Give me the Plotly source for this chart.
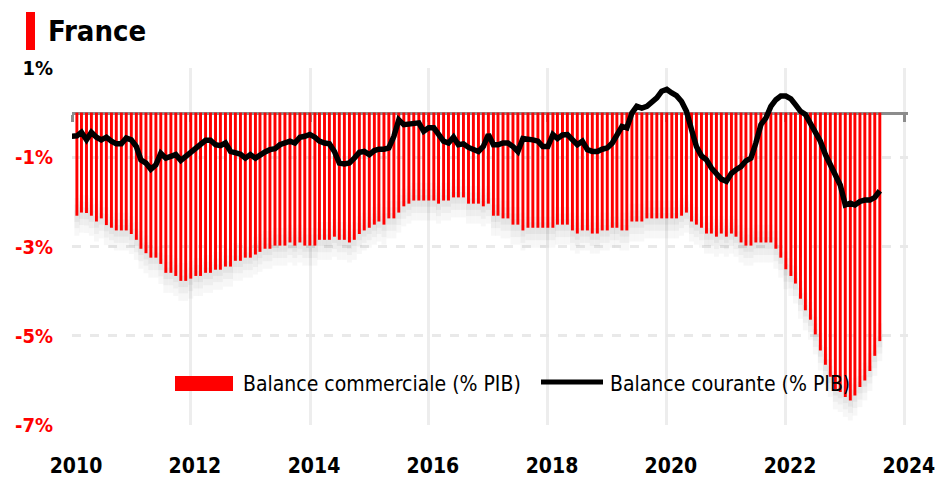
import pandas as pd
import plotly.graph_objects as go

# ---------------- data ----------------
bar_months = pd.date_range("2010-01-01", periods=163, freq="MS") + pd.offsets.MonthEnd(0)
line_months = pd.date_range("2009-12-01", periods=164, freq="MS") + pd.offsets.MonthEnd(0)

balance_commerciale = [
    -2.31, -2.24, -2.25, -2.31, -2.44, -2.37, -2.52, -2.58, -2.64, -2.64, -2.64, -2.72,
    -2.85, -3.05, -3.15, -3.25, -3.25, -3.39, -3.59, -3.59, -3.66, -3.77, -3.77, -3.72,
    -3.66, -3.66, -3.59, -3.59, -3.52, -3.52, -3.45, -3.45, -3.32, -3.32,
    -3.25, -3.25, -3.18, -3.12, -3.05, -3.05, -2.98, -2.98, -2.98, -2.91, -2.98, -2.91,
    -2.98, -2.98, -2.98, -2.85, -2.85, -2.85, -2.78, -2.85, -2.85, -2.91, -2.85, -2.72,
    -2.64, -2.58, -2.51, -2.44, -2.51, -2.37, -2.37, -2.24, -2.10,
    -2.04, -1.97, -1.97, -1.97, -1.97, -1.97, -2.04, -1.97, -1.97, -1.90, -1.90, -1.90,
    -2.04, -2.04, -2.04, -2.10, -2.04, -2.31, -2.31, -2.37, -2.37, -2.51, -2.51, -2.64,
    -2.58, -2.58, -2.58, -2.58, -2.58, -2.58, -2.51, -2.51,
    -2.51, -2.64, -2.71, -2.64, -2.64, -2.71, -2.71, -2.64, -2.64, -2.58, -2.58, -2.64,
    -2.64, -2.44, -2.44, -2.44, -2.37, -2.37, -2.37, -2.37, -2.37, -2.37, -2.37, -2.31,
    -2.24, -2.44, -2.51, -2.58, -2.71, -2.71, -2.78, -2.71, -2.78,
    -2.71, -2.78, -2.91, -2.98, -2.98, -2.91, -2.91, -2.91, -2.91, -3.05, -3.25, -3.51,
    -3.66, -3.83, -4.17, -4.43, -4.64, -4.97, -5.33, -5.65, -5.92, -6.20, -6.26, -6.37,
    -6.45, -6.34, -6.15, -6.00, -5.79, -5.45, -5.12,
]

balance_courante = [
    -0.53,
    -0.52, -0.44, -0.61, -0.44, -0.55, -0.61, -0.55, -0.64, -0.70, -0.70, -0.57, -0.61,
    -0.76, -1.06, -1.13, -1.27, -1.17, -0.91, -1.02, -0.98, -0.94, -1.07, -0.98, -0.87,
    -0.79, -0.70, -0.62, -0.62, -0.72, -0.74, -0.68, -0.87, -0.91, -0.93,
    -1.02, -0.94, -1.02, -0.94, -0.88, -0.83, -0.81, -0.72, -0.68, -0.64, -0.68, -0.55,
    -0.53, -0.49, -0.55, -0.64, -0.68, -0.70, -0.87, -1.13, -1.15, -1.13, -1.02, -0.89,
    -0.87, -0.94, -0.85, -0.82, -0.82, -0.79, -0.53, -0.16, -0.27,
    -0.25, -0.22, -0.23, -0.42, -0.34, -0.34, -0.49, -0.64, -0.68, -0.55, -0.72, -0.70,
    -0.78, -0.83, -0.87, -0.76, -0.49, -0.72, -0.72, -0.68, -0.68, -0.76, -0.87, -0.58,
    -0.58, -0.61, -0.64, -0.76, -0.76, -0.49, -0.58, -0.50,
    -0.49, -0.61, -0.72, -0.64, -0.83, -0.87, -0.87, -0.82, -0.79, -0.68, -0.53, -0.31,
    -0.34, -0.01, 0.14, 0.10, 0.14, 0.22, 0.33, 0.48, 0.52, 0.44, 0.38, 0.25,
    0.03, -0.38, -0.76, -0.97, -1.06, -1.24, -1.38, -1.49, -1.54,
    -1.36, -1.28, -1.21, -1.08, -1.02, -0.68, -0.27, -0.12, 0.14, 0.29, 0.37, 0.37,
    0.31, 0.18, 0.03, -0.04, -0.23, -0.42, -0.64, -0.94, -1.17, -1.36, -1.62, -2.07,
    -2.03, -2.07, -1.99, -1.96, -1.96, -1.90, -1.75,
]

y_tickvals = [1, -1, -3, -5, -7]
y_ticklabels = ["1%", "-1%", "-3%", "-5%", "-7%"]
x_tickvals = ["2010-01-01", "2012-01-01", "2014-01-01", "2016-01-01",
              "2018-01-01", "2020-01-01", "2022-01-01", "2024-01-01"]
x_ticklabels = ["2010", "2012", "2014", "2016", "2018", "2020", "2022", "2024"]

title_text = "France"
legend_labels = ["Balance commerciale (% PIB)", "Balance courante (% PIB)"]

# ---------------- style ----------------
W, H = 936, 480
ML, MR, MT, MB = 72, 28, 68, 55
PW, PH = W - ML - MR, H - MT - MB
NARROW = "Liberation Sans Narrow, Arial Narrow, DejaVu Sans Condensed, sans-serif"
RED = "#ff0000"
X_RANGE = ["2010-01-01", "2024-01-20"]


def px(xp):
    return (xp - ML) / PW


def py(yp):
    return (H - MB - yp) / PH


fig = go.Figure()

# soft shadow under bar tips
for top_off, bot_off, alpha in [(0.40, -0.45, 0.032), (0.25, -0.28, 0.036), (0.12, -0.14, 0.04)]:
    fig.add_trace(go.Bar(
        x=bar_months, base=[v + top_off for v in balance_commerciale],
        y=[bot_off - top_off] * len(balance_commerciale),
        width=31 * 86400000, marker=dict(color=f"rgba(0,0,0,{alpha})", line=dict(width=0)),
        showlegend=False, hoverinfo="skip",
    ))

fig.add_trace(go.Bar(
    x=bar_months, y=balance_commerciale, name=legend_labels[0],
    marker=dict(color=RED, line=dict(width=0)), width=18 * 86400000,
    showlegend=False,
))

fig.add_trace(go.Scatter(
    x=line_months, y=balance_courante, name=legend_labels[1], xaxis="x2",
    mode="lines", line=dict(color="black", width=5.5), showlegend=False,
))

ytext = [f'<span style="color:{"black" if v > 0 else RED}">{t}</span>'
         for v, t in zip(y_tickvals, y_ticklabels)]

fig.update_layout(
    width=W, height=H, margin=dict(l=ML, r=MR, t=MT, b=MB, autoexpand=False),
    paper_bgcolor="white", plot_bgcolor="white",
    barmode="overlay",
    font=dict(family=NARROW, color="black"),
    xaxis=dict(
        type="date", range=X_RANGE, automargin=False,
        tickvals=x_tickvals, ticktext=x_ticklabels,
        showgrid=True, gridcolor="#ededed", gridwidth=3,
        zeroline=False, showline=False,
        ticks="outside", ticklen=22, tickcolor="rgba(0,0,0,0)",
        tickfont=dict(family=NARROW, size=21, color="black", weight="bold"),
        ticklabelshift=4,
    ),
    xaxis2=dict(
        type="date", range=X_RANGE, overlaying="x",
        anchor="free", position=0.875, automargin=False,
        tickvals=x_tickvals, showticklabels=False, showgrid=False,
        showline=True, linecolor="#8c8c8c", linewidth=3,
        ticks="outside", ticklen=7, tickwidth=2.5, tickcolor="#8c8c8c",
        layer="below traces",
    ),
    yaxis=dict(
        range=[-7, 1], tickvals=y_tickvals, ticktext=ytext, automargin=False,
        showgrid=True, gridcolor="#e9e9e9", gridwidth=3, griddash="dash",
        zeroline=False, showline=False,
        ticks="outside", ticklen=14, tickcolor="rgba(0,0,0,0)",
        tickfont=dict(family=NARROW, size=20, weight="bold"),
    ),
    shapes=[
        dict(type="rect", xref="paper", yref="paper",
             x0=px(26), x1=px(35), y0=py(50), y1=py(12),
             fillcolor=RED, line=dict(width=0)),
        dict(type="rect", xref="paper", yref="paper",
             x0=px(175), x1=px(233), y0=py(391), y1=py(376),
             fillcolor=RED, line=dict(width=0)),
        dict(type="line", xref="paper", yref="paper",
             x0=px(541), x1=px(603), y0=py(382), y1=py(382),
             line=dict(color="black", width=5)),
    ],
    annotations=[
        dict(text=f"<b>{title_text}</b>", xref="paper", yref="paper",
             x=px(46), y=py(31), xanchor="left", yanchor="middle", showarrow=False,
             font=dict(family=NARROW, size=29, color="black")),
        dict(text=legend_labels[0], xref="paper", yref="paper",
             x=px(241), y=py(384), xanchor="left", yanchor="middle", showarrow=False,
             font=dict(family=NARROW, size=21, color="black")),
        dict(text=legend_labels[1], xref="paper", yref="paper",
             x=px(608), y=py(384), xanchor="left", yanchor="middle", showarrow=False,
             font=dict(family=NARROW, size=21, color="black")),
    ],
)

fig.write_html("out.html", config={"displayModeBar": False},
               post_script="document.body.style.margin='0';")
